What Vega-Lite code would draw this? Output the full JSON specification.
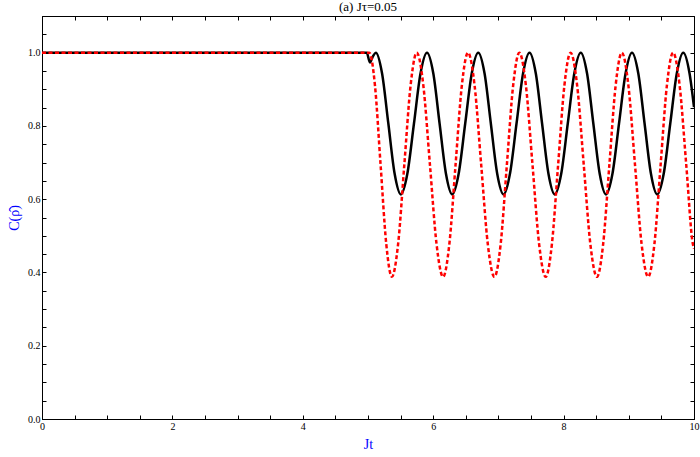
{
  "$schema": "https://vega.github.io/schema/vega-lite/v6.json",
  "width": 652,
  "height": 403,
  "autosize": "none",
  "padding": {"left": 42, "top": 16, "right": 6, "bottom": 38},
  "background": "white",
  "config": {
    "view": {"stroke": "black", "strokeWidth": 1},
    "font": "Liberation Serif",
    "axis": {"grid": false, "domainColor": "black", "tickColor": "black", "labelColor": "black", "labelFont": "Liberation Serif", "labelFontSize": 10, "titleFont": "Liberation Serif", "titleFontWeight": "normal", "titleColor": "#0000ff", "titleFontSize": 14}
  },
  "title": {"text": "(a) Jτ=0.05", "font": "Liberation Serif", "fontSize": 13, "fontWeight": "normal", "color": "black", "offset": 2},
  "datasets": {
    "black": [
      {"x": 0, "y": 1.0}, {"x": 4.98, "y": 1.0}, {"x": 5.03, "y": 0.973}, {"x": 5.075, "y": 0.99}, {"x": 5.12, "y": 1.0},
      {"x": 5.216, "y": 0.943}, {"x": 5.312, "y": 0.8065}, {"x": 5.408, "y": 0.67}, {"x": 5.504, "y": 0.613},
      {"x": 5.604, "y": 0.67}, {"x": 5.705, "y": 0.8065}, {"x": 5.805, "y": 0.943}, {"x": 5.905, "y": 1.0},
      {"x": 6.002, "y": 0.943}, {"x": 6.098, "y": 0.8065}, {"x": 6.195, "y": 0.67}, {"x": 6.291, "y": 0.613},
      {"x": 6.391, "y": 0.67}, {"x": 6.491, "y": 0.8065}, {"x": 6.591, "y": 0.943}, {"x": 6.691, "y": 1.0},
      {"x": 6.788, "y": 0.943}, {"x": 6.884, "y": 0.8065}, {"x": 6.981, "y": 0.67}, {"x": 7.078, "y": 0.613},
      {"x": 7.178, "y": 0.67}, {"x": 7.278, "y": 0.8065}, {"x": 7.378, "y": 0.943}, {"x": 7.477, "y": 1.0},
      {"x": 7.574, "y": 0.943}, {"x": 7.67, "y": 0.8065}, {"x": 7.767, "y": 0.67}, {"x": 7.864, "y": 0.613},
      {"x": 7.964, "y": 0.67}, {"x": 8.064, "y": 0.8065}, {"x": 8.164, "y": 0.943}, {"x": 8.263, "y": 1.0},
      {"x": 8.36, "y": 0.943}, {"x": 8.456, "y": 0.8065}, {"x": 8.553, "y": 0.67}, {"x": 8.65, "y": 0.613},
      {"x": 8.75, "y": 0.67}, {"x": 8.85, "y": 0.8065}, {"x": 8.95, "y": 0.943}, {"x": 9.049, "y": 1.0},
      {"x": 9.146, "y": 0.943}, {"x": 9.242, "y": 0.8065}, {"x": 9.339, "y": 0.67}, {"x": 9.436, "y": 0.613},
      {"x": 9.536, "y": 0.67}, {"x": 9.636, "y": 0.8065}, {"x": 9.736, "y": 0.943}, {"x": 9.835, "y": 1.0},
      {"x": 9.932, "y": 0.943}, {"x": 10.0, "y": 0.851}
    ],
    "red": [
      {"x": 0, "y": 1.0}, {"x": 5.02, "y": 1.0},
      {"x": 5.107, "y": 0.91}, {"x": 5.193, "y": 0.694}, {"x": 5.28, "y": 0.478}, {"x": 5.366, "y": 0.388},
      {"x": 5.462, "y": 0.478}, {"x": 5.557, "y": 0.694}, {"x": 5.653, "y": 0.91}, {"x": 5.748, "y": 1.0},
      {"x": 5.849, "y": 0.91}, {"x": 5.95, "y": 0.694}, {"x": 6.051, "y": 0.478}, {"x": 6.152, "y": 0.388},
      {"x": 6.248, "y": 0.478}, {"x": 6.343, "y": 0.694}, {"x": 6.439, "y": 0.91}, {"x": 6.534, "y": 1.0},
      {"x": 6.635, "y": 0.91}, {"x": 6.736, "y": 0.694}, {"x": 6.837, "y": 0.478}, {"x": 6.939, "y": 0.388},
      {"x": 7.035, "y": 0.478}, {"x": 7.13, "y": 0.694}, {"x": 7.226, "y": 0.91}, {"x": 7.321, "y": 1.0},
      {"x": 7.422, "y": 0.91}, {"x": 7.523, "y": 0.694}, {"x": 7.624, "y": 0.478}, {"x": 7.725, "y": 0.388},
      {"x": 7.821, "y": 0.478}, {"x": 7.916, "y": 0.694}, {"x": 8.012, "y": 0.91}, {"x": 8.107, "y": 1.0},
      {"x": 8.208, "y": 0.91}, {"x": 8.309, "y": 0.694}, {"x": 8.41, "y": 0.478}, {"x": 8.511, "y": 0.388},
      {"x": 8.607, "y": 0.478}, {"x": 8.702, "y": 0.694}, {"x": 8.798, "y": 0.91}, {"x": 8.893, "y": 1.0},
      {"x": 8.994, "y": 0.91}, {"x": 9.095, "y": 0.694}, {"x": 9.196, "y": 0.478}, {"x": 9.297, "y": 0.388},
      {"x": 9.393, "y": 0.478}, {"x": 9.488, "y": 0.694}, {"x": 9.584, "y": 0.91}, {"x": 9.679, "y": 1.0},
      {"x": 9.78, "y": 0.91}, {"x": 9.881, "y": 0.694}, {"x": 9.982, "y": 0.478}, {"x": 10.0, "y": 0.465}
    ]
  },
  "layer": [
    {
      "data": {"name": "black"},
      "mark": {"type": "line", "color": "black", "strokeWidth": 2.5, "interpolate": "monotone", "clip": true},
      "encoding": {
        "x": {"field": "x", "type": "quantitative", "scale": {"domain": [0, 10], "nice": false},
          "axis": {"orient": "bottom", "title": "Jt", "values": [0,0.5,1,1.5,2,2.5,3,3.5,4,4.5,5,5.5,6,6.5,7,7.5,8,8.5,9,9.5,10], "labelExpr": "datum.value % 2 === 0 ? format(datum.value, 'd') : ''", "tickSize": -4, "labelPadding": 6, "titleFontSize": 14, "titlePadding": 6, "labelFlush": false}},
        "y": {"field": "y", "type": "quantitative", "scale": {"domain": [0, 1.1], "nice": false, "zero": true},
          "axis": {"orient": "left", "title": "C(ρ̂)", "values": [0,0.05,0.1,0.15,0.2,0.25,0.3,0.35,0.4,0.45,0.5,0.55,0.6,0.65,0.7,0.75,0.8,0.85,0.9,0.95,1.0,1.05], "labelExpr": "abs(datum.value*5 - round(datum.value*5)) < 0.001 ? format(datum.value, '.1f') : ''", "tickSize": -4, "labelPadding": 6, "titlePadding": 6, "labelFlush": false}}
      }
    },
    {
      "data": {"name": "red"},
      "mark": {"type": "line", "color": "#ff0000", "strokeWidth": 2.5, "strokeDash": [4, 2.5], "interpolate": "monotone", "clip": true},
      "encoding": {
        "x": {"field": "x", "type": "quantitative",
          "axis": {"orient": "top", "title": null, "labels": false, "values": [0,0.5,1,1.5,2,2.5,3,3.5,4,4.5,5,5.5,6,6.5,7,7.5,8,8.5,9,9.5,10], "tickSize": -4}},
        "y": {"field": "y", "type": "quantitative",
          "axis": {"orient": "right", "title": null, "labels": false, "values": [0,0.05,0.1,0.15,0.2,0.25,0.3,0.35,0.4,0.45,0.5,0.55,0.6,0.65,0.7,0.75,0.8,0.85,0.9,0.95,1.0,1.05], "tickSize": -4}}
      }
    }
  ]
}
